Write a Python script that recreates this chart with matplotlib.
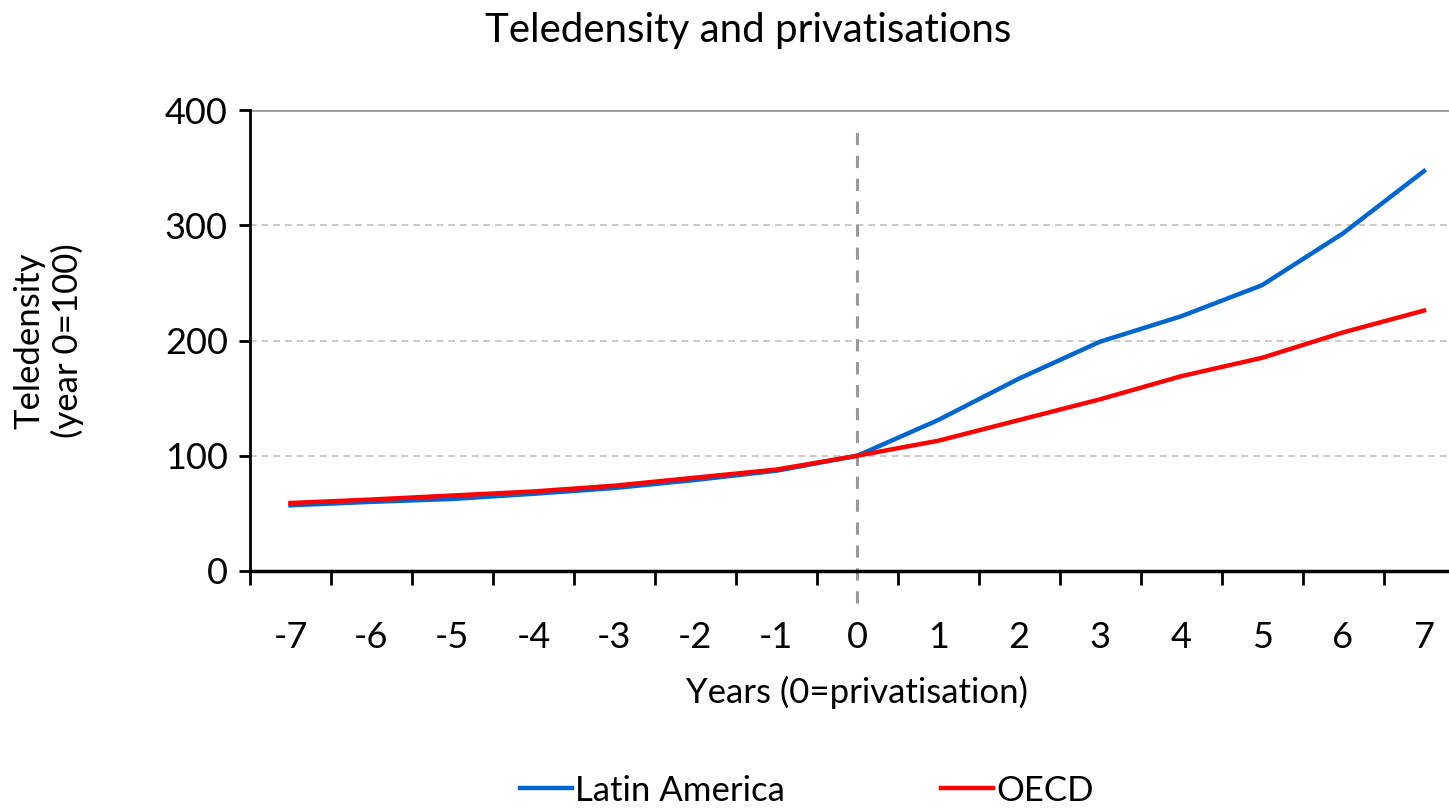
import matplotlib
matplotlib.use("Agg")
import matplotlib.pyplot as plt

# data
years = [-7, -6, -5, -4, -3, -2, -1, 0, 1, 2, 3, 4, 5, 6, 7]
latin_america = [57, 60, 62.5, 67, 72, 79, 87, 100, 131, 167, 199, 221, 248, 293, 347]
oecd = [59, 62, 65.5, 69, 74, 81, 88, 100, 113, 131, 149, 169, 185, 207, 226]
y_ticks = [0, 100, 200, 300, 400]

plt.rcParams['font.family'] = ['Lato', 'DejaVu Sans']

fig = plt.figure(figsize=(14.49, 8.11), dpi=100)
ax = fig.add_axes([250/1449, 1-571/811, 1214.5/1449, 461/811])

# gridlines
for v in y_ticks[1:-1]:
	ax.axhline(v, color="#c0c0c0", lw=1.2, ls=(0, (4, 3)), zorder=1)
ax.axhline(400, color="#999999", lw=2, zorder=1)

# privatisation marker
ax.plot([0, 0], [-28, 390], color="#999999", lw=2.2, ls=(0, (4, 3.5)), clip_on=False, zorder=2)

ax.plot(years, latin_america, color="#0066CC", lw=3.2, label="Latin America", zorder=3)
ax.plot(years, oecd, color="#FF0000", lw=3.2, label="OECD", zorder=4)

ax.set_xlim(-7.5, 7.5)
ax.set_ylim(0, 400)
ax.set_yticks(y_ticks)
ax.tick_params(axis="y", labelsize=26, length=8, width=2, direction="out", pad=8)
ax.set_xticks(years)
ax.set_xticklabels([str(y) for y in years])
ax.set_xticks([y + 0.5 for y in range(-8, 8)], minor=True)
ax.tick_params(axis="x", which="major", length=0, labelsize=26, pad=36)
ax.tick_params(axis="x", which="minor", length=10, width=2, direction="out")

for s in ["top", "right"]:
	ax.spines[s].set_visible(False)
ax.spines["left"].set_linewidth(2)
ax.spines["bottom"].set_linewidth(2.5)

ax.set_xlabel("Years (0=privatisation)", fontsize=25, labelpad=16)
ax.set_ylabel("Teledensity\n(year 0=100)", fontsize=25, labelpad=58)
fig.suptitle("Teledensity and privatisations", fontsize=29, x=748/1449, y=0.985)

fig.legend(loc="lower center", bbox_to_anchor=(807/1449, -0.033), ncol=2, frameon=False,
	fontsize=25, handlelength=1.5, handletextpad=0.1, columnspacing=4.5)

fig.savefig("out.png", dpi=100)
